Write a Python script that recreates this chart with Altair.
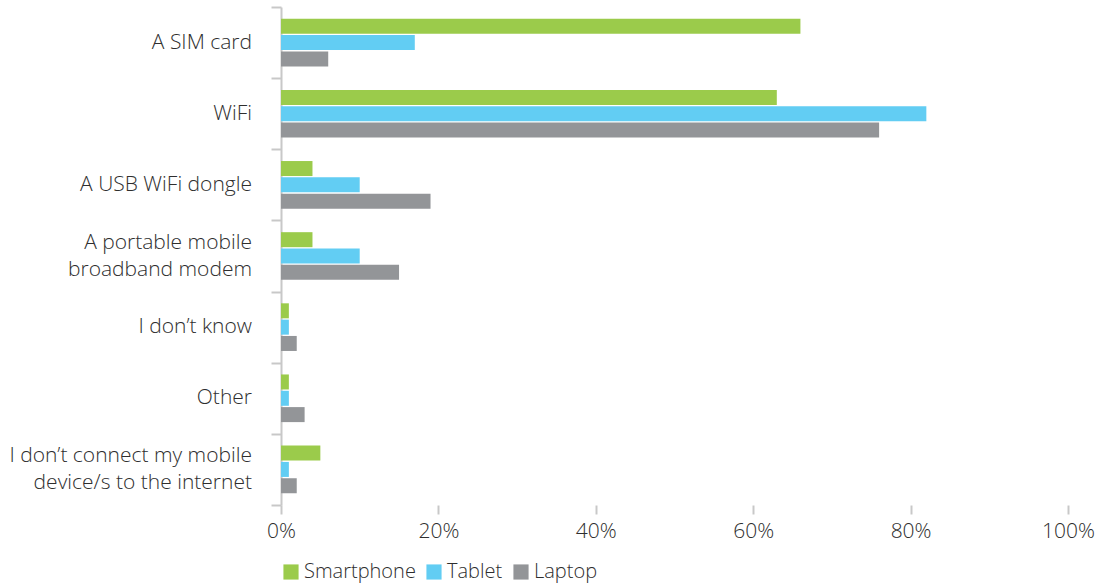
import altair as alt
import pandas as pd

categories = ["A SIM card", "WiFi", "A USB WiFi dongle", "A portable mobile|broadband modem",
              "I don’t know", "Other", "I don’t connect my mobile|device/s to the internet"]
series = ["Smartphone", "Tablet", "Laptop"]
smartphone = [66, 63, 4, 4, 1, 1, 5]
tablet = [17, 82, 10, 10, 1, 1, 1]
laptop = [6, 76, 19, 15, 2, 3, 2]
colors = ["#9bcb4b", "#62cdf3", "#939598"]
x_ticks = [0, 20, 40, 60, 80, 100]

rows = []
for i, c in enumerate(categories):
    for s, vals in zip(series, [smartphone, tablet, laptop]):
        rows.append({"category": c, "device": s, "value": vals[i]})
df = pd.DataFrame(rows)
lab = pd.DataFrame({"category": categories})

FONT = "Open Sans"
TXT = "#2e2e2e"
FS = 21

y_enc = alt.Y("category:N", sort=categories, title=None,
              scale=alt.Scale(paddingInner=0, paddingOuter=0),
              axis=alt.Axis(tickBand="extent", domainColor="#c8c8c8", domainWidth=2,
                            tickColor="#c8c8c8", tickWidth=2, tickSize=10, labels=False))

bars = alt.Chart(df).mark_bar().encode(
    y=y_enc,
    yOffset=alt.YOffset("device:N", sort=series,
                        scale=alt.Scale(paddingInner=0.08, paddingOuter=0.72)),
    x=alt.X("value:Q", title=None,
            scale=alt.Scale(domain=[0, 100]),
            axis=alt.Axis(values=x_ticks, labelExpr="datum.value + '%'", domain=False,
                          grid=False, tickColor="#c8c8c8", tickWidth=2, tickSize=9,
                          labelFlush=False, labelOverlap=False,
                          labelFont=FONT, labelFontSize=FS, labelFontWeight=300,
                          labelColor=TXT, labelPadding=6)),
    color=alt.Color("device:N", sort=series,
                    scale=alt.Scale(domain=series, range=colors),
                    legend=alt.Legend(title=None, orient="bottom", direction="horizontal",
                                      symbolType="square", symbolSize=230, symbolStrokeWidth=0,
                                      labelFont=FONT, labelFontSize=20, labelFontWeight=300,
                                      labelColor=TXT, columnPadding=8, labelOffset=3,
                                      offset=21, padding=0)),
)

text_props = dict(align="right", baseline="middle", font=FONT, fontSize=FS,
                  fontWeight=300, color=TXT, lineBreak="|", lineHeight=27)

single = alt.Chart(lab).transform_filter("indexof(datum.category, '|') < 0").mark_text(
    dy=0, **text_props).encode(y=alt.Y("category:N", sort=categories), x=alt.value(-29),
                               text="category:N")
double = alt.Chart(lab).transform_filter("indexof(datum.category, '|') >= 0").mark_text(
    dy=-13.5, **text_props).encode(y=alt.Y("category:N", sort=categories), x=alt.value(-29),
                                   text="category:N")

chart = alt.layer(bars, single, double).properties(
    width=787, height=498,
    autosize=alt.AutoSizeParams(type="none"),
    padding={"left": 281, "top": 7, "right": 50, "bottom": 81},
).configure_view(stroke=None)

chart.save("out.html", embed_options={"renderer": "svg", "actions": False})
